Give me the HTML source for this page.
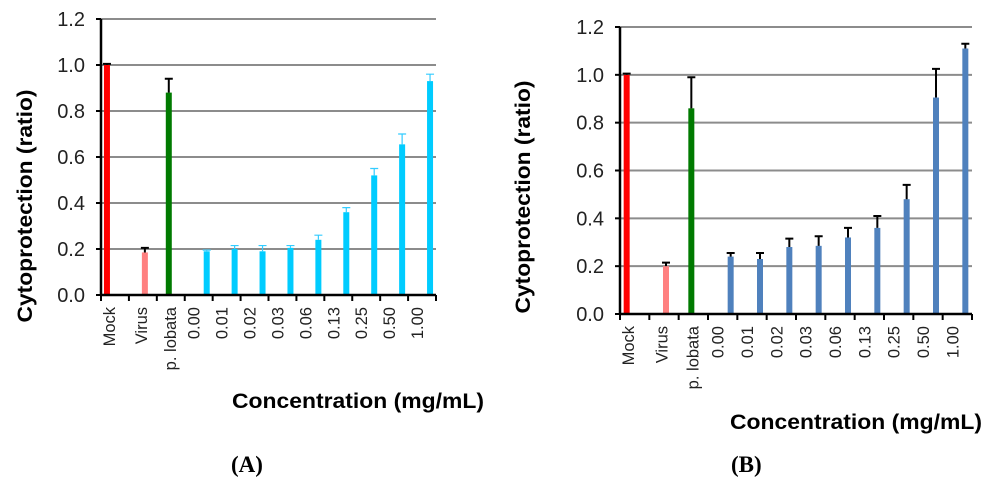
<!DOCTYPE html>
<html><head><meta charset="utf-8"><style>
html,body{margin:0;padding:0;background:#fff;}
svg{display:block;font-family:"Liberation Sans",Arial,sans-serif;}
</style></head><body>
<svg id="fig" width="1000" height="484" viewBox="0 0 1000 484"></svg>
<script>
const categories = ["Mock","Virus","p. lobata","0.00","0.01","0.02","0.03","0.06","0.13","0.25","0.50","1.00"];
const valuesA = [1.0,0.185,0.88,0.19,0.20,0.19,0.205,0.24,0.36,0.52,0.655,0.93];
const errTopA = [1.005,0.205,0.94,0.195,0.215,0.215,0.215,0.26,0.38,0.55,0.70,0.96];
const valuesB = [1.0,0.20,0.86,0.24,0.23,0.28,0.285,0.32,0.36,0.48,0.905,1.11];
const errTopB = [1.005,0.215,0.99,0.255,0.255,0.315,0.325,0.36,0.41,0.54,1.025,1.13];
const yTicks = ["0.0","0.2","0.4","0.6","0.8","1.0","1.2"];
const NS="http://www.w3.org/2000/svg";
const svg=document.getElementById('fig');
function mk(tag,attrs,parent){const e=document.createElementNS(NS,tag);for(const k in attrs)e.setAttribute(k,attrs[k]);(parent||svg).appendChild(e);return e;}
const slotIdx=[0,1,2,4,5,6,7,8,9,10,11,12];
function drawChart(cfg){
  const g=mk('g',{});
  
  
  const y=v=>cfg.y0-(v/1.2)*(cfg.y0-cfg.yTop);
  const sw=(cfg.xR-cfg.x0)/12;
  const xc=i=>{const s=slotIdx[i];return cfg.x0+ (s<3? (s+0.5)*sw : (s-1+0.5)*sw);};
  const offs=i=>i===0?-8:i===1?2:i===2?-2:8;
  yTicks.forEach((t,k)=>{
    const v=parseFloat(t);const yy=y(v);
    if(k>0){const gl=mk('line',{x1:cfg.x0,x2:cfg.xR,y1:yy,y2:yy,stroke:'#8c8c8c','stroke-width':2},g);
      }
    const tl=mk('text',{x:cfg.x0-16,y:yy+7,'text-anchor':'end','font-size':20,fill:'#222'},g);
    tl.textContent=t;
    
    mk('line',{x1:cfg.x0-5,x2:cfg.x0,y1:yy,y2:yy,stroke:'#000','stroke-width':2},g);
  });
  categories.forEach((c,i)=>{
    const cx=xc(i)+offs(i);
    const col=i===0?'#ff0000':i===1?'#ff8080':i===2?'#007a00':cfg.blue;
    const b=mk('rect',{x:cx-3,y:y(cfg.vals[i]),width:6,height:y(0)-y(cfg.vals[i]),fill:col},g);
    
    
    const ec=(i<3||!cfg.cyanErr)?'#000':'#33ccff';
    const ew=(i<3||!cfg.cyanErr)?2:1.2;
    const e=mk('path',{d:`M${cx},${y(cfg.vals[i])} V${y(cfg.err[i])} M${cx-4},${y(cfg.err[i])} H${cx+4}`,stroke:ec,'stroke-width':ew,fill:'none'},g);
    
    
    const tx=i===0?cfg.x0+8:i===1?cfg.x0+sw+12:xc(i)-(i===2?1:5);
    const t=mk('text',{x:0,y:0,'text-anchor':'end','font-size':16.5,fill:'#222',transform:`translate(${tx+6},${y(0)+12}) rotate(-90)`},g);
    t.textContent=c;
    
  });
  for(let s=0;s<=12;s++){const xx=cfg.x0+s*sw;mk('line',{x1:xx,x2:xx,y1:y(0),y2:y(0)+6,stroke:'#000','stroke-width':2},g);}
  const ax=mk('line',{x1:cfg.x0,x2:cfg.x0,y1:cfg.yTop,y2:y(0),stroke:'#000','stroke-width':2.5},g);
  
  const xa=mk('line',{x1:cfg.x0,x2:cfg.xR,y1:y(0),y2:y(0),stroke:'#000','stroke-width':2.5},g);
  
  const yt=mk('text',{x:0,y:0,'text-anchor':'middle','font-size':21,'font-weight':'bold',fill:'#000',transform:`translate(${cfg.ytX},${cfg.ytY}) rotate(-90)`,textLength:233,lengthAdjust:'spacingAndGlyphs'},g);
  yt.textContent='Cytoprotection (ratio)';
  
  const xt=mk('text',{x:cfg.xtX,y:cfg.xtY,'font-size':21,'font-weight':'bold',fill:'#000',textLength:252,lengthAdjust:'spacingAndGlyphs'},g);
  xt.textContent='Concentration (mg/mL)';
  
  const pl=mk('text',{x:cfg.plX,y:472,'font-size':23,'font-weight':'bold','font-family':'"Liberation Serif",serif',fill:'#000'},g);
  pl.textContent=cfg.panel;
  
}
drawChart({name:'chart-a',x0:101,xR:436,y0:295,yTop:19,vals:valuesA,err:errTopA,blue:'#00ccff',cyanErr:true,ytX:32,ytY:206,xtX:232,xtY:408,plX:231,panel:'(A)'});
drawChart({name:'chart-b',x0:620,xR:972,y0:314,yTop:27,vals:valuesB,err:errTopB,blue:'#4f81bd',cyanErr:false,ytX:530,ytY:197,xtX:730,xtY:429,plX:731,panel:'(B)'});
</script>
</body></html>
